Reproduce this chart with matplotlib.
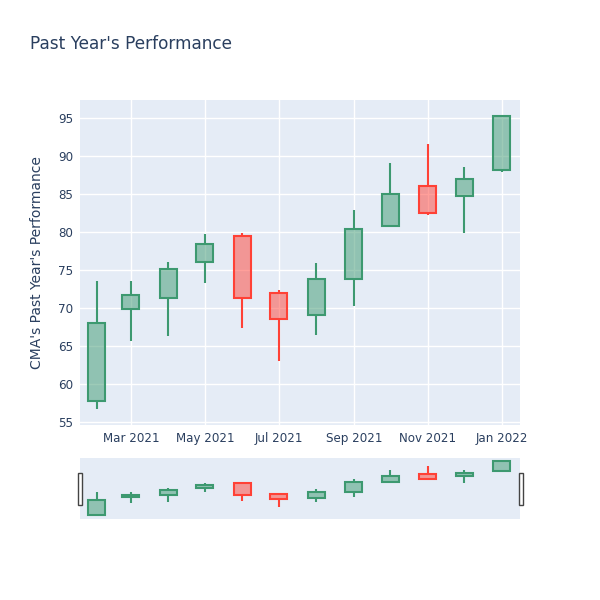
import pandas as pd
import matplotlib
matplotlib.use("Agg")
import matplotlib.pyplot as plt
import matplotlib.dates as mdates
from matplotlib.patches import Rectangle

plt.rcParams["font.family"] = ["DejaVu Sans"]

months = ["2021-02-01", "2021-03-01", "2021-04-01", "2021-05-01", "2021-06-01", "2021-07-01",
          "2021-08-01", "2021-09-01", "2021-10-01", "2021-11-01", "2021-12-01", "2022-01-01"]
opens = [57.7, 69.8, 71.3, 76.0, 79.5, 72.0, 69.1, 73.8, 80.8, 86.0, 84.7, 88.2]
highs = [73.6, 73.5, 76.0, 79.7, 79.8, 72.3, 75.9, 82.9, 89.1, 91.5, 88.6, 95.3]
lows = [56.7, 65.6, 66.3, 73.3, 67.4, 63.0, 66.4, 70.3, 80.6, 82.2, 79.9, 87.9]
closes = [68.0, 71.7, 75.1, 78.4, 71.3, 68.6, 73.8, 80.4, 85.0, 82.5, 86.9, 95.3]

tick_dates = ["2021-03-01", "2021-05-01", "2021-07-01", "2021-09-01", "2021-11-01", "2022-01-01"]
tick_labels = ["Mar 2021", "May 2021", "Jul 2021", "Sep 2021", "Nov 2021", "Jan 2022"]
y_ticks = [55, 60, 65, 70, 75, 80, 85, 90, 95]

inc_line = "#3D9970"
dec_line = "#FF4136"
bg = "#e5ecf6"
txt = "#2a3f5f"

df = pd.DataFrame({"date": pd.to_datetime(months), "open": opens, "high": highs,
                   "low": lows, "close": closes})
df["x"] = mdates.date2num(df["date"])

fig = plt.figure(figsize=(6, 6), dpi=100)
ax = fig.add_axes([80 / 600, 175 / 600, 440 / 600, 325 / 600])
sl = fig.add_axes([80 / 600, 81 / 600, 440 / 600, 61 / 600])

x_lo = mdates.date2num(pd.Timestamp("2021-01-18"))
x_hi = mdates.date2num(pd.Timestamp("2022-01-16"))
y_lo, y_hi = 54.6, 97.35


def draw_candles(a, lw):
    for _, r in df.iterrows():
        up = r["close"] >= r["open"]
        c = inc_line if up else dec_line
        lo_b = min(r["open"], r["close"])
        hi_b = max(r["open"], r["close"])
        a.vlines(r["x"], r["low"], lo_b, color=c, lw=lw, zorder=3)
        a.vlines(r["x"], hi_b, r["high"], color=c, lw=lw, zorder=3)
        a.bar(r["x"], hi_b - lo_b, bottom=lo_b, width=14, facecolor=c, alpha=0.5,
              edgecolor="none", zorder=3)
        a.bar(r["x"], hi_b - lo_b, bottom=lo_b, width=14, facecolor="none",
              edgecolor=c, lw=lw, zorder=4)


for a in (ax, sl):
    a.set_facecolor(bg)
    for s in a.spines.values():
        s.set_visible(False)
    a.set_xlim(x_lo, x_hi)
    a.set_ylim(y_lo, y_hi)

draw_candles(ax, 1.5)
draw_candles(sl, 1.5)

ax.set_xticks(mdates.date2num(pd.to_datetime(tick_dates)))
ax.set_xticklabels(tick_labels)
ax.set_yticks(y_ticks)
ax.grid(True, color="white", lw=1)
ax.set_axisbelow(True)
ax.tick_params(length=0, labelsize=8.6, colors=txt, pad=5)
ax.set_ylabel("CMA's Past Year's Performance", fontsize=10, color=txt, labelpad=10)

sl.set_xticks([])
sl.set_yticks([])

for hx in (77.5, 518.5):
    fig.patches.append(Rectangle((hx / 600, 95 / 600), 4 / 600, 32 / 600,
                                 transform=fig.transFigure, facecolor="white",
                                 edgecolor="#444444", lw=1, zorder=10))

fig.text(30 / 600, 1 - 44 / 600, "Past Year's Performance", fontsize=12.2, color=txt,
         va="center", ha="left")

fig.savefig("out.png", dpi=100)
